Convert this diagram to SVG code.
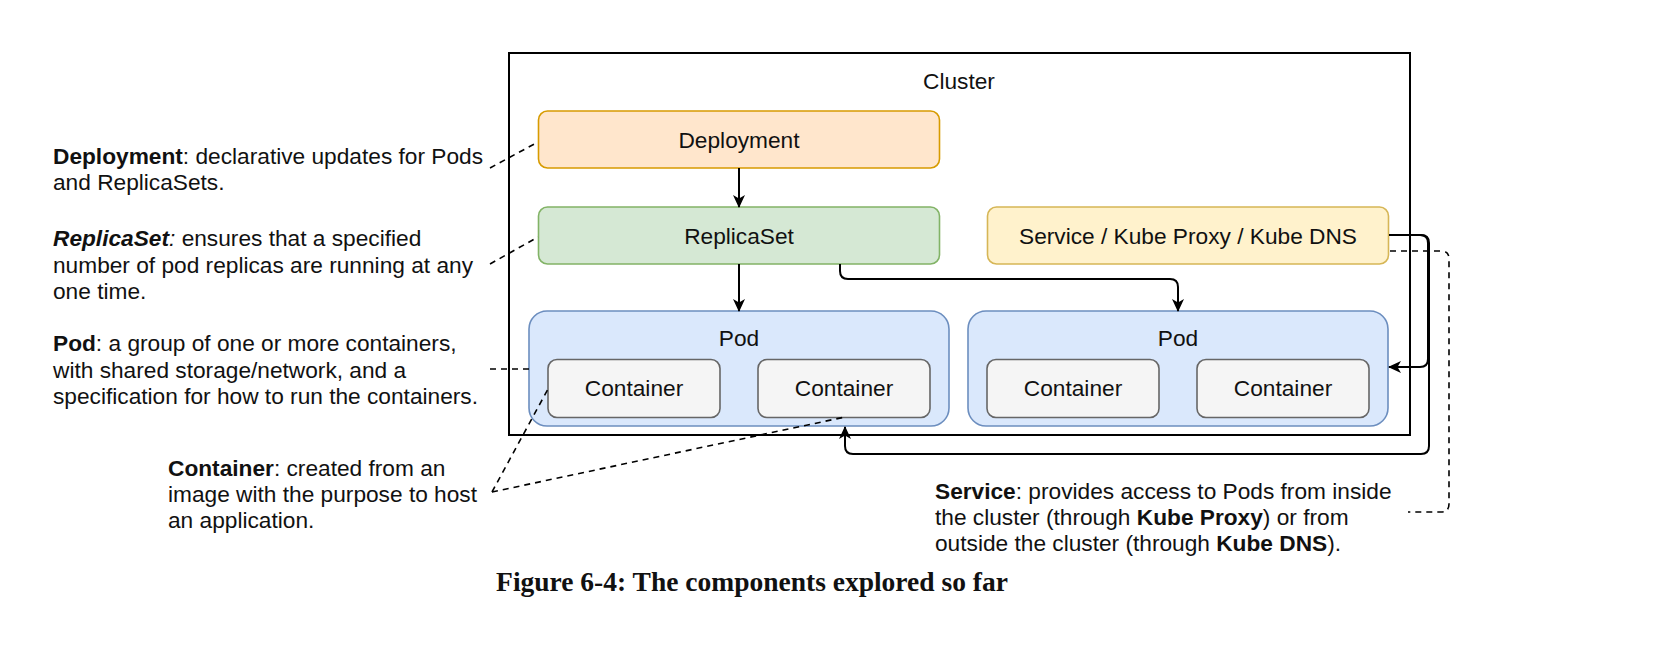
<svg xmlns="http://www.w3.org/2000/svg" width="1678" height="654" viewBox="0 0 1678 654">
<defs>
<marker id="arr" viewBox="0 0 13 12" refX="12" refY="6" markerWidth="13" markerHeight="12" markerUnits="userSpaceOnUse" orient="auto">
<path d="M0,0 L13,6 L0,12 L3.5,6 Z" fill="#000"/>
</marker>
<style>
text{font-family:"Liberation Sans",Arial,Helvetica,sans-serif;font-size:22.7px;fill:#111}
.c{text-anchor:middle}
.b{font-weight:bold}
.bi{font-weight:bold;font-style:italic}
.i{font-style:italic}
.edge{fill:none;stroke:#000;stroke-width:2}
.dash{fill:none;stroke:#000;stroke-width:1.6;stroke-dasharray:6,5}
.cap{font-family:"Liberation Serif","Times New Roman",serif;font-weight:bold;font-size:27.5px;text-anchor:middle}
</style>
</defs>
<rect x="0" y="0" width="1678" height="654" fill="#fff"/>

<g id="cluster">
<rect x="509" y="53" width="901" height="382" fill="none" stroke="#000" stroke-width="2"/>
<text class="c" x="959" y="89">Cluster</text>
</g>

<g id="deployment">
<rect x="538.5" y="111" width="401" height="57" rx="9" fill="#ffe6cc" stroke="#d79b00" stroke-width="1.6"/>
<text class="c" x="739" y="148">Deployment</text>
</g>

<g id="replicaset">
<rect x="538.5" y="207" width="401" height="57" rx="9" fill="#d5e8d4" stroke="#82b366" stroke-width="1.6"/>
<text class="c" x="739" y="244">ReplicaSet</text>
</g>

<g id="service">
<rect x="987.5" y="207" width="401" height="57" rx="9" fill="#fff2cc" stroke="#d6b656" stroke-width="1.6"/>
<text class="c" x="1188" y="244">Service / Kube Proxy / Kube DNS</text>
</g>

<g id="pod1">
<rect x="529" y="311" width="420" height="115" rx="18" fill="#dae8fc" stroke="#6c8ebf" stroke-width="1.6"/>
<text class="c" x="739" y="346">Pod</text>
</g>
<g id="pod1-container1">
<rect x="548" y="359.5" width="172" height="58" rx="9" fill="#f5f5f5" stroke="#666" stroke-width="1.6"/>
<text class="c" x="634" y="396">Container</text>
</g>
<g id="pod1-container2">
<rect x="758" y="359.5" width="172" height="58" rx="9" fill="#f5f5f5" stroke="#666" stroke-width="1.6"/>
<text class="c" x="844" y="396">Container</text>
</g>

<g id="pod2">
<rect x="968" y="311" width="420" height="115" rx="18" fill="#dae8fc" stroke="#6c8ebf" stroke-width="1.6"/>
<text class="c" x="1178" y="346">Pod</text>
</g>
<g id="pod2-container1">
<rect x="987" y="359.5" width="172" height="58" rx="9" fill="#f5f5f5" stroke="#666" stroke-width="1.6"/>
<text class="c" x="1073" y="396">Container</text>
</g>
<g id="pod2-container2">
<rect x="1197" y="359.5" width="172" height="58" rx="9" fill="#f5f5f5" stroke="#666" stroke-width="1.6"/>
<text class="c" x="1283" y="396">Container</text>
</g>

<g id="connectors">
<path class="edge" d="M739,168 V207" marker-end="url(#arr)"/>
<path class="edge" d="M739,264 V311" marker-end="url(#arr)"/>
<path class="edge" d="M840,264 V271 Q840,279 848,279 H1170 Q1178,279 1178,287 V311" marker-end="url(#arr)"/>
<path class="edge" d="M1389,235 H1420 Q1428,235 1428,243 V359 Q1428,367 1420,367 H1389" marker-end="url(#arr)"/>
<path class="edge" d="M1389,235 H1421 Q1429,235 1429,243 V446 Q1429,454 1421,454 H853 Q845,454 845,446 V427" marker-end="url(#arr)"/>

<path class="dash" d="M490,168 L538,142"/>
<path class="dash" d="M490,264 L538,237"/>
<path class="dash" d="M490,369 H529"/>
<path class="dash" d="M492,492 L548,389"/>
<path class="dash" d="M492,492 L845,417"/>
<path class="dash" d="M1390,251 H1441 Q1449,251 1449,259 V504 Q1449,512 1441,512 H1408"/>
</g>

<g id="note-deployment">
<text x="53" y="164"><tspan class="b">Deployment</tspan>: declarative updates for Pods</text>
<text x="53" y="190">and ReplicaSets.</text>
</g>
<g id="note-replicaset">
<text x="53" y="246"><tspan class="bi">ReplicaSet</tspan><tspan class="i">:</tspan> ensures that a specified</text>
<text x="53" y="273">number of pod replicas are running at any</text>
<text x="53" y="299">one time.</text>
</g>
<g id="note-pod">
<text x="53" y="351"><tspan class="b">Pod</tspan>: a group of one or more containers,</text>
<text x="53" y="378">with shared storage/network, and a</text>
<text x="53" y="404">specification for how to run the containers.</text>
</g>
<g id="note-container">
<text x="168" y="476"><tspan class="b">Container</tspan>: created from an</text>
<text x="168" y="502">image with the purpose to host</text>
<text x="168" y="528">an application.</text>
</g>
<g id="note-service">
<text x="935" y="499"><tspan class="b">Service</tspan>: provides access to Pods from inside</text>
<text x="935" y="525">the cluster (through <tspan class="b">Kube Proxy</tspan>) or from</text>
<text x="935" y="551">outside the cluster (through <tspan class="b">Kube DNS</tspan>).</text>
</g>

<text class="cap" x="752" y="591">Figure 6-4: The components explored so far</text>
</svg>
